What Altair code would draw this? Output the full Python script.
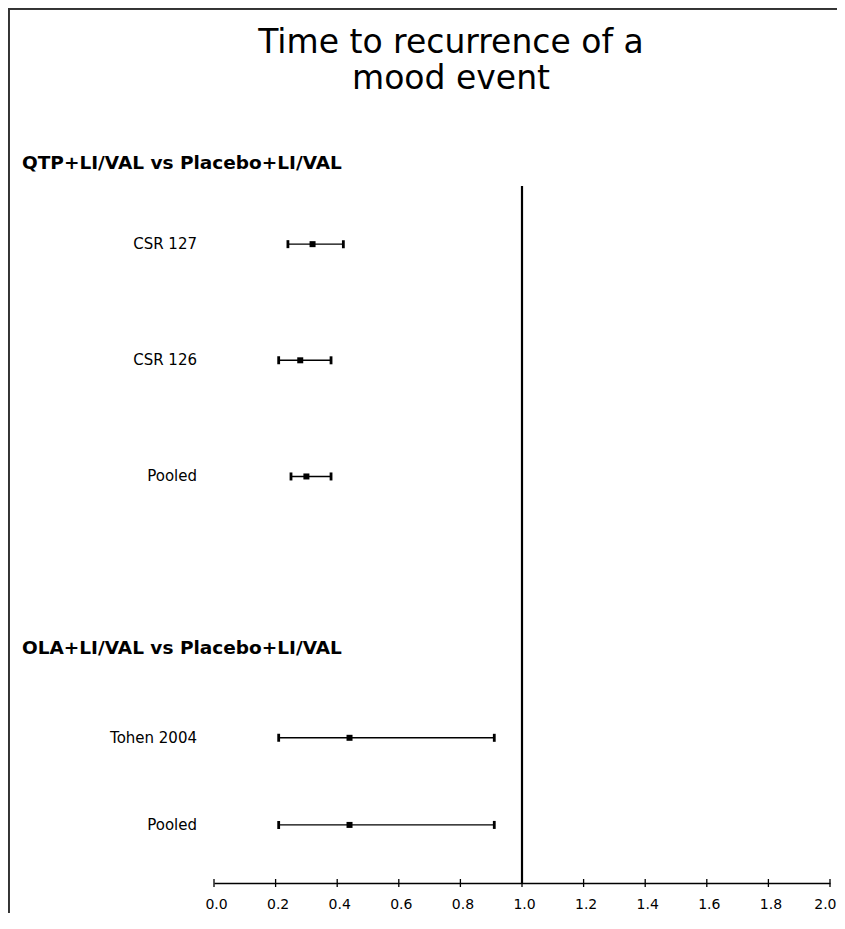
import altair as alt
import pandas as pd

# ---------------- data ----------------
title_text = "Time to recurrence of a\nmood event"
groups = ["QTP+LI/VAL vs Placebo+LI/VAL", "OLA+LI/VAL vs Placebo+LI/VAL"]
studies = ["CSR 127", "CSR 126", "Pooled", "Tohen 2004", "Pooled"]
hazard_ratio = [0.32, 0.28, 0.30, 0.44, 0.44]
ci_low = [0.24, 0.21, 0.25, 0.21, 0.21]
ci_high = [0.42, 0.38, 0.38, 0.91, 0.91]
x_ticks = [0.0, 0.2, 0.4, 0.6, 0.8, 1.0, 1.2, 1.4, 1.6, 1.8, 2.0]
reference_value = 1.0

# ---------------- layout (vertical slots) ----------------
row_slot = [2, 6, 10, 19, 22]
group_slot = [-0.8, 15.9]
ref_top, ref_bottom = 0, 24
y_domain = [-2, 24]

W, H = 616, 755
FONT = "DejaVu Sans"

rows = pd.DataFrame({
    "study": studies, "hr": hazard_ratio, "lo": ci_low, "hi": ci_high, "slot": row_slot,
})
grp = pd.DataFrame({"label": groups, "slot": group_slot})
ticks = pd.DataFrame({"v": x_ticks})
refdf = pd.DataFrame({"v": [reference_value], "top": [ref_top], "bottom": [ref_bottom]})
titledf = pd.DataFrame({"t": [title_text]})

xs = alt.Scale(domain=[0, 2], nice=False, zero=False)
ys = alt.Scale(domain=y_domain, reverse=True, nice=False, zero=False)

last_tick = "datum.value >= %s" % x_ticks[-1]
xaxis = alt.Axis(values=x_ticks, format=".1f", grid=False, ticks=False, title=None,
                 domainColor="black", domainWidth=1.3, labelFont=FONT, labelFontSize=14,
                 labelColor="black", labelPadding=14, labelFlush=False,
                 labelAlign={"condition": {"test": last_tick, "value": "right"}, "value": "center"},
                 labelOffset={"condition": {"test": last_tick, "value": 6}, "value": 2})

base = alt.Chart(rows)

bars = base.mark_rule(color="black", strokeWidth=1.4).encode(
    x=alt.X("lo:Q", scale=xs, axis=xaxis), x2="hi:Q",
    y=alt.Y("slot:Q", scale=ys, axis=None),
)
caps_lo = base.mark_tick(color="black", orient="vertical", thickness=2.8, size=8, opacity=1).encode(
    x=alt.X("lo:Q"), y=alt.Y("slot:Q"))
caps_hi = base.mark_tick(color="black", orient="vertical", thickness=2.8, size=8, opacity=1).encode(
    x=alt.X("hi:Q"), y=alt.Y("slot:Q"))
points = base.mark_point(shape="square", filled=True, size=36, color="black", opacity=1).encode(
    x=alt.X("hr:Q"), y=alt.Y("slot:Q"))
labels = base.mark_text(align="right", baseline="middle", font=FONT, fontSize=15, color="black").encode(
    x=alt.value(-17), y=alt.Y("slot:Q"), text="study:N")

group_labels = alt.Chart(grp).mark_text(align="left", baseline="middle", font=FONT, fontSize=18.5,
                                        fontWeight="bold", color="black").encode(
    x=alt.value(-192), y=alt.Y("slot:Q"), text="label:N")

ref = alt.Chart(refdf).mark_rule(color="black", strokeWidth=2.2).encode(
    x=alt.X("v:Q"), y=alt.Y("top:Q"), y2="bottom:Q")

tick_marks = alt.Chart(ticks).mark_rule(color="black", strokeWidth=1.3).encode(
    x=alt.X("v:Q"), y=alt.value(H - 4), y2=alt.value(H + 4))

title = alt.Chart(titledf).mark_text(align="center", baseline="alphabetic", font=FONT, fontSize=33,
                                     lineBreak="\n", lineHeight=36, color="black").encode(
    x=alt.value(237), y=alt.value(-75), text="t:N")

frame_left = alt.Chart(ticks).mark_rule(color="#333", strokeWidth=1.5).encode(
    x=alt.value(-205.5), y=alt.value(-120), y2=alt.value(H + 60))
frame_top = alt.Chart(ticks).mark_rule(color="#333", strokeWidth=1.5).encode(
    y=alt.value(-119.5), x=alt.value(-206), x2=alt.value(W + 20))

chart = alt.layer(
    bars, ref, caps_lo, caps_hi, points, labels, group_labels, tick_marks, title,
    frame_left, frame_top
).properties(
    width=W, height=H,
    background="white",
    autosize=alt.AutoSizeParams(type="none"),
    padding={"left": 206, "top": 120, "right": 7, "bottom": 30},
).configure_view(stroke=None)

chart.save("out.html", embed_options={"renderer": "svg", "actions": False})
